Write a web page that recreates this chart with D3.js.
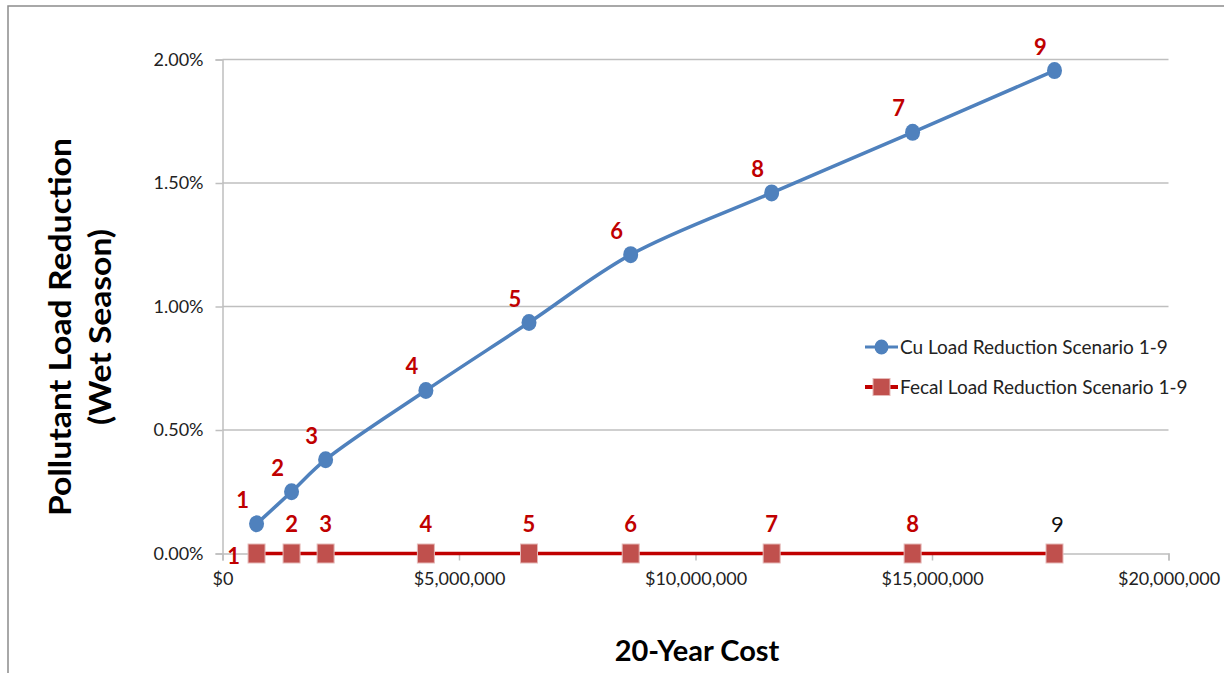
<!DOCTYPE html>
<html>
<head>
<meta charset="utf-8">
<script src="https://cdn.jsdelivr.net/npm/d3@7"></script>
<style>
  body { margin: 0; background: #fff; }
  svg { display: block; font-family: Lato, 'Open Sans', sans-serif; }
</style>
</head>
<body>
<script>
const width = 1224;
const height = 673;

// scenario costs and reductions
const costs = [720000, 1460000, 2180000, 4300000, 6480000, 8630000, 11610000, 14590000, 17590000];
const cuReduction = [0.0012, 0.0025, 0.0038, 0.0066, 0.00935, 0.0121, 0.0146, 0.01705, 0.01955];
const fecalReduction = [0, 0, 0, 0, 0, 0, 0, 0, 0];
const cuLabels = ['1', '2', '3', '4', '5', '6', '8', '7', '9'];
const fecalLabels = ['1', '2', '3', '4', '5', '6', '7', '8', '9'];
const xTicks = [0, 5000000, 10000000, 15000000, 20000000];
const yTicks = [0, 0.005, 0.01, 0.015, 0.02];
const seriesNames = ['Cu Load Reduction Scenario 1-9', 'Fecal Load Reduction Scenario 1-9'];

const blue = '#4F81BD';
const red = '#C00000';
const grid = '#BFBFBF';

function main() {
  const svg = d3.select('body').append('svg').attr('width', width).attr('height', height);

  // outer frame of the chart (cut by the right/bottom edges)
  svg.append('rect')
    .attr('x', 8).attr('y', 6)
    .attr('width', width + 20).attr('height', height + 20)
    .attr('fill', 'none').attr('stroke', '#8C8C8C').attr('stroke-width', 1.5);

  const x = d3.scaleLinear().domain([0, 20000000]).range([222.5, 1168.5]);
  const y = d3.scaleLinear().domain([0, 0.02]).range([553.5, 59.5]);

  drawAxes(svg, x, y);
  drawSeries(svg, x, y);
  drawLegend(svg);
}

function drawAxes(svg, x, y) {
  svg.append('g')
    .selectAll('line')
    .data(yTicks.filter(d => d > 0))
    .enter()
    .append('line')
    .attr('x1', x(0)).attr('x2', x(20000000))
    .attr('y1', d => y(d)).attr('y2', d => y(d))
    .attr('stroke', grid).attr('stroke-width', 1.5);

  const yAxis = svg.append('g')
    .attr('transform', `translate(${x(0)},0)`)
    .call(d3.axisLeft(y).tickValues(yTicks).tickFormat(d3.format('.2%')).tickSize(7).tickPadding(12));

  const xAxis = svg.append('g')
    .attr('transform', `translate(0,${y(0)})`)
    .call(d3.axisBottom(x).tickValues(xTicks).tickFormat(d3.format('$,')).tickSize(7).tickPadding(12));

  [yAxis, xAxis].forEach(g => {
    g.select('.domain').attr('stroke', grid).attr('stroke-width', 1.5);
    g.selectAll('.tick line').attr('stroke', grid).attr('stroke-width', 1.5);
    g.selectAll('.tick text').attr('fill', '#222').style('font-size', '18px').style('font-family', 'Lato, sans-serif');
  });

  svg.append('text')
    .attr('x', 697).attr('y', 661)
    .attr('text-anchor', 'middle')
    .style('font-size', '29px').style('font-weight', 'bold')
    .text('20-Year Cost');

  const yTitle = svg.append('text')
    .attr('transform', 'translate(0,327) rotate(-90)')
    .attr('text-anchor', 'middle')
    .style('font-size', '30px').style('font-weight', 'bold');
  yTitle.append('tspan').attr('x', 0).attr('y', 71).attr('textLength', 378).attr('lengthAdjust', 'spacingAndGlyphs')
    .text('Pollutant Load Reduction');
  yTitle.append('tspan').attr('x', 0).attr('y', 111).attr('textLength', 196).attr('lengthAdjust', 'spacingAndGlyphs')
    .text('(Wet Season)');
}

function drawSeries(svg, x, y) {
  const cu = costs.map((c, i) => ({ cost: c, value: cuReduction[i], label: cuLabels[i] }));
  const fecal = costs.map((c, i) => ({ cost: c, value: fecalReduction[i], label: fecalLabels[i] }));

  const smooth = d3.line().x(d => x(d.cost)).y(d => y(d.value)).curve(d3.curveCatmullRom.alpha(0.5));
  const straight = d3.line().x(d => x(d.cost)).y(d => y(d.value));

  svg.append('path').datum(fecal)
    .attr('d', straight)
    .attr('fill', 'none').attr('stroke', red).attr('stroke-width', 3.5);

  svg.append('path').datum(cu)
    .attr('d', smooth)
    .attr('fill', 'none').attr('stroke', blue).attr('stroke-width', 3.5);

  svg.selectAll('.cu-dot')
    .data(cu)
    .enter()
    .append('ellipse')
    .attr('class', 'cu-dot')
    .attr('cx', d => x(d.cost)).attr('cy', d => y(d.value))
    .attr('rx', 7.5).attr('ry', 8.5)
    .attr('fill', blue);

  svg.selectAll('.fecal-dot')
    .data(fecal)
    .enter()
    .append('rect')
    .attr('class', 'fecal-dot')
    .attr('x', d => x(d.cost) - 8.5).attr('y', d => y(d.value) - 9.5)
    .attr('width', 17).attr('height', 19)
    .attr('fill', '#C0504D').attr('stroke', '#E6B9B8').attr('stroke-width', 1);

  svg.selectAll('.cu-label')
    .data(cu)
    .enter()
    .append('text')
    .attr('class', 'cu-label')
    .attr('x', d => x(d.cost) - 14).attr('y', d => y(d.value) - 16)
    .attr('text-anchor', 'middle')
    .attr('fill', red)
    .style('font-size', '22px').style('font-weight', 'bold')
    .text(d => d.label);

  svg.selectAll('.fecal-label')
    .data(fecal)
    .enter()
    .append('text')
    .attr('class', 'fecal-label')
    .attr('x', (d, i) => x(d.cost) + (i === 0 ? -23 : i === fecal.length - 1 ? 3 : 0))
    .attr('y', (d, i) => y(d.value) + (i === 0 ? 10 : -22))
    .attr('text-anchor', 'middle')
    .attr('fill', (d, i) => (i === fecal.length - 1 ? '#111' : red))
    .style('font-size', '22px')
    .style('font-weight', (d, i) => (i === fecal.length - 1 ? 'normal' : 'bold'))
    .text(d => d.label);
}

function drawLegend(svg) {
  const legend = svg.append('g').attr('transform', 'translate(865,347)');
  const rows = legend.selectAll('g')
    .data(seriesNames)
    .enter()
    .append('g')
    .attr('transform', (_, i) => `translate(0,${i * 40})`);

  rows.append('line')
    .attr('x1', 0).attr('x2', 33).attr('y1', 0).attr('y2', 0)
    .attr('stroke', (_, i) => (i === 0 ? blue : red))
    .attr('stroke-width', (_, i) => (i === 0 ? 3 : 4));

  rows.filter((_, i) => i === 0).append('ellipse')
    .attr('cx', 16.5).attr('cy', 0).attr('rx', 7).attr('ry', 7.5).attr('fill', blue);

  rows.filter((_, i) => i === 1).append('rect')
    .attr('x', 8).attr('y', -8.5).attr('width', 17).attr('height', 17)
    .attr('fill', '#C0504D').attr('stroke', '#E6B9B8');

  rows.append('text')
    .attr('x', 35).attr('y', 0).attr('dy', '0.35em')
    .attr('fill', '#222')
    .style('font-size', '19px')
    .text(d => d);
}

main();
</script>
</body>
</html>
